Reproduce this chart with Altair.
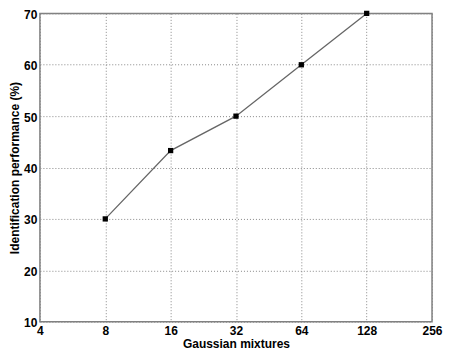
import altair as alt
import pandas as pd

mixtures = [8, 16, 32, 64, 128]
performance = [30, 43.3, 50, 60, 70]
x_ticks = [4, 8, 16, 32, 64, 128, 256]
y_ticks = [10, 20, 30, 40, 50, 60, 70]

df = pd.DataFrame({"mixtures": mixtures, "performance": performance})

FONT = "Liberation Sans"

x_enc = alt.X(
    "mixtures:Q",
    scale=alt.Scale(type="log", base=2, domain=[4, 256], nice=False),
    axis=alt.Axis(
        values=x_ticks, format="d", title="Gaussian mixtures",
        grid=True, gridDash=[1, 2], gridColor="#888888", gridWidth=1,
        ticks=False, domain=False, labelPadding=4, titlePadding=2,
        labelFontSize=12, labelFontWeight="bold", titleFontSize=12,
        titleFontWeight="bold", labelColor="black", titleColor="black",
        labelFont=FONT, titleFont=FONT, labelFlush=False,
    ),
)
y_enc = alt.Y(
    "performance:Q",
    scale=alt.Scale(domain=[10, 70], nice=False),
    axis=alt.Axis(
        values=y_ticks, title="Identification performance (%)",
        grid=True, gridDash=[1, 2], gridColor="#888888", gridWidth=1,
        ticks=False, domain=False, labelPadding=3, titlePadding=2,
        labelFontSize=12, labelFontWeight="bold", titleFontSize=12,
        titleFontWeight="bold", labelColor="black", titleColor="black",
        labelFont=FONT, titleFont=FONT, labelFlush=False, labelOffset=1,
    ),
)

line = alt.Chart(df).mark_line(color="#666666", strokeWidth=1.3).encode(x=x_enc, y=y_enc)
pts = alt.Chart(df).mark_point(shape="square", filled=True, color="black", size=28, opacity=1).encode(
    x="mixtures:Q", y="performance:Q"
)

chart = (
    alt.layer(line, pts)
    .properties(
        width=393, height=309,
        autosize=alt.AutoSizeParams(type="none"),
        padding={"left": 32, "top": 5, "right": 11, "bottom": 33},
        background="white",
    )
    .configure_view(stroke="#808080", strokeWidth=1.5)
)

chart.save("out.html", embed_options={"renderer": "svg", "actions": False})
